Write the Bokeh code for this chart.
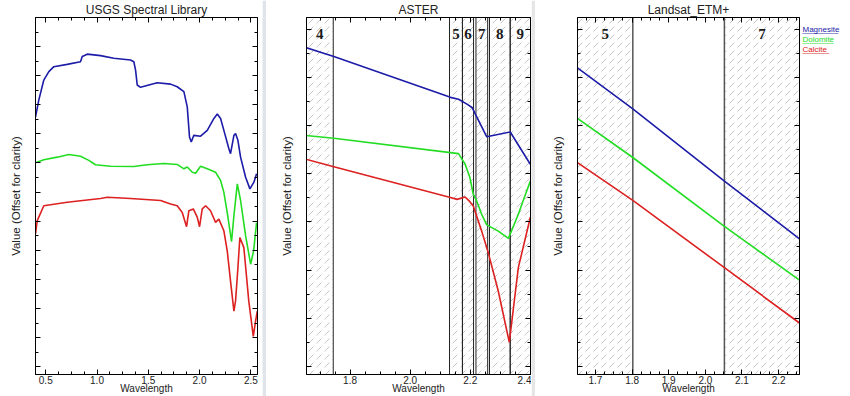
from bokeh.plotting import figure
from bokeh.layouts import row
from bokeh.models import Range1d, LinearAxis, SingleIntervalTicker, PrintfTickFormatter
from bokeh.embed import file_html
from bokeh.resources import INLINE
from bokeh.core.properties import value

# ---------------- data ----------------
# USGS Spectral Library (offset for clarity)
usgs_wl_magnesite = [0.400, 0.432, 0.481, 0.530, 0.579, 0.709, 0.839, 0.856, 0.904, 1.034,
                     1.164, 1.327, 1.359, 1.376, 1.392, 1.424, 1.587, 1.717, 1.782, 1.847,
                     1.880, 1.902, 1.919, 1.944, 2.010, 2.075, 2.140, 2.173, 2.205, 2.237,
                     2.286, 2.302, 2.335, 2.351, 2.374, 2.400, 2.449, 2.491, 2.530, 2.556]
usgs_magnesite = [0.858, 0.916, 0.985, 1.014, 1.031, 1.039, 1.048, 1.066, 1.074, 1.069,
                  1.060, 1.054, 1.048, 1.019, 0.968, 0.960, 0.976, 0.971, 0.962, 0.945,
                  0.893, 0.789, 0.772, 0.795, 0.792, 0.812, 0.853, 0.868, 0.853, 0.812,
                  0.749, 0.732, 0.795, 0.801, 0.778, 0.720, 0.651, 0.611, 0.634, 0.663]
usgs_wl_dolomite = [0.400, 0.481, 0.612, 0.725, 0.839, 0.920, 0.985, 1.132, 1.359, 1.490,
                    1.652, 1.782, 1.847, 1.880, 1.929, 1.961, 2.010, 2.075, 2.156, 2.205,
                    2.237, 2.270, 2.312, 2.335, 2.368, 2.400, 2.449, 2.498, 2.527, 2.556]
usgs_dolomite = [0.701, 0.711, 0.720, 0.729, 0.723, 0.709, 0.694, 0.689, 0.688, 0.694,
                 0.698, 0.695, 0.680, 0.686, 0.668, 0.665, 0.689, 0.680, 0.668, 0.640,
                 0.599, 0.529, 0.430, 0.519, 0.628, 0.571, 0.450, 0.352, 0.398, 0.495]
usgs_wl_calcite = [0.400, 0.417, 0.481, 0.709, 1.034, 1.100, 1.327, 1.620, 1.717, 1.782,
                   1.831, 1.873, 1.896, 1.939, 1.978, 2.000, 2.026, 2.059, 2.107, 2.156,
                   2.188, 2.237, 2.270, 2.302, 2.335, 2.351, 2.374, 2.393, 2.432, 2.480,
                   2.524, 2.546, 2.563]
usgs_calcite = [0.456, 0.502, 0.553, 0.565, 0.578, 0.582, 0.578, 0.571, 0.559, 0.553,
                0.530, 0.481, 0.536, 0.542, 0.513, 0.481, 0.542, 0.553, 0.536, 0.496,
                0.507, 0.467, 0.398, 0.294, 0.191, 0.226, 0.340, 0.444, 0.409, 0.225,
                0.104, 0.156, 0.191]

# ASTER resampled
aster_wl_magnesite = [1.650, 1.746, 2.134, 2.161, 2.189, 2.206, 2.217, 2.255, 2.333, 2.400]
aster_magnesite = [0.663, 0.644, 0.559, 0.555, 0.545, 0.538, 0.524, 0.477, 0.487, 0.420]
aster_wl_dolomite = [1.650, 1.746, 2.161, 2.183, 2.199, 2.210, 2.221, 2.238, 2.255, 2.293,
                     2.327, 2.360, 2.376, 2.400]
aster_dolomite = [0.480, 0.474, 0.442, 0.420, 0.392, 0.358, 0.344, 0.316, 0.294, 0.281,
                  0.266, 0.316, 0.344, 0.385]
aster_wl_calcite = [1.650, 1.746, 2.134, 2.156, 2.183, 2.196, 2.210, 2.238, 2.260, 2.293,
                    2.330, 2.360, 2.400]
aster_calcite = [0.431, 0.415, 0.351, 0.347, 0.352, 0.344, 0.333, 0.281, 0.236, 0.157,
                 0.050, 0.205, 0.310]
aster_band_names = ["4", "5", "6", "7", "8", "9"]
aster_band_lo = [1.600, 2.131, 2.174, 2.219, 2.264, 2.333]
aster_band_hi = [1.744, 2.174, 2.211, 2.258, 2.333, 2.430]

# Landsat ETM+ resampled
etm_wl = [1.650, 1.802, 2.052, 2.257]
etm_magnesite = [0.621, 0.535, 0.385, 0.265]
etm_dolomite = [0.516, 0.434, 0.291, 0.179]
etm_calcite = [0.424, 0.345, 0.205, 0.090]
etm_band_names = ["5", "7"]
etm_band_lo = [1.550, 2.052]
etm_band_hi = [1.802, 2.350]

minerals = ["Magnesite", "Dolomite", "Calcite"]
colors = ["#1c1ca8", "#22dd22", "#dd2020"]

FONT = "Liberation Sans"
H = 396


def style_axis(ax, show_labels):
    ax.major_tick_in = 5
    ax.major_tick_out = 0
    ax.minor_tick_in = 3
    ax.minor_tick_out = 0
    ax.axis_line_color = "black"
    ax.major_tick_line_color = "black"
    ax.minor_tick_line_color = "black"
    ax.major_label_text_font = FONT
    ax.axis_label_text_font = FONT
    ax.axis_label_text_font_style = "normal"
    ax.axis_label_text_color = "#222222"
    if show_labels:
        ax.major_label_text_font_size = "10px"
        ax.major_label_text_color = "#222222"
        ax.major_label_standoff = 1
        ax.formatter = PrintfTickFormatter(format="%.1f")
    else:
        ax.major_label_text_font_size = "0px"
        ax.major_label_text_color = None
        ax.major_label_standoff = 0


def make_fig(title, width, xr, yr, x_int, x_minor, left, right):
    p = figure(width=width, height=H, x_range=Range1d(*xr), y_range=Range1d(*yr),
               output_backend="svg", toolbar_location=None, title=title,
               x_axis_type=None, y_axis_type=None,
               min_border_left=left, min_border_right=right,
               min_border_top=10, min_border_bottom=10)
    p.title.text_font = FONT
    p.title.text_font_size = "12px"
    p.title.text_font_style = "normal"
    p.title.text_color = "#222222"
    p.title.align = "center"
    p.title.standoff = 1
    p.outline_line_color = "black"
    p.outline_line_width = 1
    p.background_fill_color = "white"
    p.border_fill_color = "white"
    for side in ["below", "above"]:
        ax = LinearAxis(ticker=SingleIntervalTicker(interval=x_int, num_minor_ticks=x_minor))
        style_axis(ax, side == "below")
        if side == "below":
            ax.axis_label = "Wavelength"
            ax.axis_label_text_font_size = "10px"
            ax.axis_label_standoff = -4
        p.add_layout(ax, side)
    for side in ["left", "right"]:
        ax = LinearAxis(ticker=SingleIntervalTicker(interval=0.1, num_minor_ticks=2))
        style_axis(ax, False)
        if side == "left":
            ax.axis_label = "Value (Offset for clarity)"
            ax.axis_label_text_font_size = "11.5px"
            ax.axis_label_standoff = 14
        p.add_layout(ax, side)
    return p


def add_bands(p, names, lo, hi, xr, yr, edge_color, edge_width):
    p.quad(left=lo, right=hi, bottom=yr[0] - 1, top=yr[1] + 1,
           fill_color="white", fill_alpha=0.0,
           hatch_pattern="right_diagonal_dash", hatch_color="#a8a8a8",
           hatch_alpha=0.85, hatch_scale=8, hatch_weight=0.8,
           line_color=edge_color, line_width=edge_width)
    cx = [(max(a, xr[0]) + min(b, xr[1])) / 2 for a, b in zip(lo, hi)]
    cy = [yr[1] - 0.034 * (yr[1] - yr[0]) / 0.742] * len(names)
    p.text(x=cx, y=cy, text=names, text_font=value("Liberation Serif"),
           text_font_size="15px", text_font_style="bold", text_align="center",
           text_baseline="middle", text_color="#1a1a1a")


def spacer(width, color):
    s = figure(width=width, height=H, output_backend="svg", toolbar_location=None,
               x_axis_type=None, y_axis_type=None, title=None,
               min_border_left=0, min_border_right=0, min_border_top=0, min_border_bottom=0)
    s.outline_line_color = None
    s.border_fill_color = color
    s.background_fill_color = color
    return s


# ---- panel 1
xr1 = (0.40, 2.565)
yr1 = (-0.027, 1.20)
p1 = make_fig("USGS Spectral Library", 262, xr1, yr1, 0.5, 4, 35, 5)
for wl, v, c in [(usgs_wl_magnesite, usgs_magnesite, colors[0]),
                 (usgs_wl_dolomite, usgs_dolomite, colors[1]),
                 (usgs_wl_calcite, usgs_calcite, colors[2])]:
    p1.line(wl, v, line_color=c, line_width=1.6)

# ---- panel 2
xr2 = (1.655, 2.4005)
yr2 = (-0.017, 0.725)
p2 = make_fig("ASTER", 265, xr2, yr2, 0.2, 4, 40, 1)
add_bands(p2, aster_band_names, aster_band_lo, aster_band_hi, xr2, yr2, "#222222", 1)
for wl, v, c in [(aster_wl_magnesite, aster_magnesite, colors[0]),
                 (aster_wl_dolomite, aster_dolomite, colors[1]),
                 (aster_wl_calcite, aster_calcite, colors[2])]:
    p2.line(wl, v, line_color=c, line_width=1.6)

# ---- panel 3
xr3 = (1.651, 2.257)
yr3 = (-0.017, 0.725)
p3 = make_fig("Landsat_ETM+", 266, xr3, yr3, 0.1, 4, 42, 2)
add_bands(p3, etm_band_names, etm_band_lo, etm_band_hi, xr3, yr3, "#555555", 1.5)
for v, c in zip([etm_magnesite, etm_dolomite, etm_calcite], colors):
    p3.line(etm_wl, v, line_color=c, line_width=1.6)

# ---- legend strip (underlined, coloured names)
LW = 49
p4 = figure(width=LW, height=H, x_range=Range1d(0, LW), y_range=Range1d(H, 0),
            output_backend="svg", toolbar_location=None, title=None,
            x_axis_type=None, y_axis_type=None,
            min_border_left=0, min_border_right=0, min_border_top=0, min_border_bottom=0)
p4.outline_line_color = None
p4.border_fill_color = "white"
leg_x = [1] * len(minerals)
leg_y = [13 + 11 * i for i in range(len(minerals))]
p4.text(x=leg_x, y=leg_y, text=minerals, text_color=colors, text_font=value(FONT),
        text_font_size="8px", text_baseline="middle", text_align="left")
p4.text(x=leg_x, y=leg_y, text=["_" * 8, "_" * 7, "_" * 6], text_color=colors,
        text_font=value(FONT), text_font_size="8px", text_baseline="middle", text_align="left")

layout = row(p1, spacer(4, "#dfe4ea"), p2, spacer(4, "#e6e6e6"), p3, p4, spacing=0)
open("out.html", "w").write(file_html(layout, INLINE))
